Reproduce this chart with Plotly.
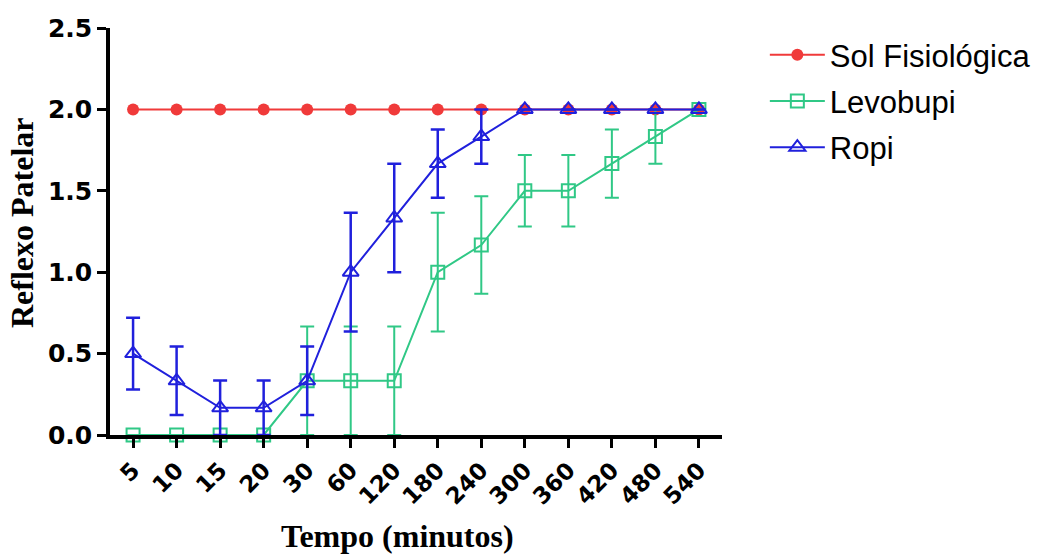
import plotly.graph_objects as go

tempo = ["5", "10", "15", "20", "30", "60", "120", "180", "240", "300", "360", "420", "480", "540"]

sol = [2.0] * 14

levo = [0.0, 0.0, 0.0, 0.0, 0.333, 0.333, 0.333, 1.0, 1.167, 1.5, 1.5, 1.667, 1.833, 2.0]
levo_err = [0.0, 0.0, 0.0, 0.0, 0.333, 0.333, 0.333, 0.365, 0.30, 0.22, 0.22, 0.21, 0.167, 0.0]

ropi = [0.5, 0.333, 0.167, 0.167, 0.333, 1.0, 1.333, 1.667, 1.833, 2.0, 2.0, 2.0, 2.0, 2.0]
ropi_err = [0.22, 0.21, 0.167, 0.167, 0.21, 0.365, 0.333, 0.21, 0.167, 0.0, 0.0, 0.0, 0.0, 0.0]

RED = "#f03a3a"
GREEN = "#30c886"
BLUE = "#2020dc"

fig = go.Figure()

fig.add_trace(go.Scatter(
    x=tempo, y=sol, name="Sol Fisiológica", legendgroup="a",
    mode="lines+markers",
    line=dict(color=RED, width=2),
    marker=dict(symbol="circle", size=12, color=RED),
    cliponaxis=False,
))
fig.add_trace(go.Scatter(
    x=tempo, y=levo, name="Levobupi", legendgroup="b",
    mode="lines+markers",
    line=dict(color=GREEN, width=2),
    marker=dict(symbol="square-open", size=13, color=GREEN, line=dict(width=2, color=GREEN)),
    error_y=dict(type="data", array=levo_err, symmetric=True, color=GREEN, thickness=2, width=7),
    cliponaxis=False,
))
fig.add_trace(go.Scatter(
    x=tempo, y=ropi, name="Ropi", legendgroup="c",
    mode="lines+markers",
    line=dict(color=BLUE, width=2),
    marker=dict(symbol="triangle-up-open", size=14, color=BLUE, line=dict(width=2, color=BLUE)),
    error_y=dict(type="data", array=ropi_err, symmetric=True, color=BLUE, thickness=2.5, width=7),
    cliponaxis=False,
))

title_font = dict(family="Liberation Serif, Times New Roman", size=32, color="black", weight="bold")

fig.update_layout(
    width=1048, height=556,
    margin=dict(l=110, r=326, t=28, b=121, autoexpand=False),
    paper_bgcolor="white", plot_bgcolor="white",
    showlegend=True,
    legend=dict(
        x=1.07, y=1.0, xanchor="left", yanchor="top",
        font=dict(family="Liberation Sans, Arial", size=31, color="black"),
        itemwidth=55, tracegroupgap=3, traceorder="grouped",
        bgcolor="rgba(0,0,0,0)",
    ),
    xaxis=dict(
        type="category", range=[-0.53, 13.53],
        showline=True, linecolor="black", linewidth=3.5,
        ticks="outside", ticklen=9, tickwidth=3, tickcolor="black",
        tickangle=-45,
        tickfont=dict(family="DejaVu Sans", size=23, color="black", weight="bold"),
        showgrid=False, zeroline=False,
    ),
    yaxis=dict(
        range=[0, 2.5], tickvals=[0, 0.5, 1.0, 1.5, 2.0, 2.5], tickformat=".1f",
        showline=True, linecolor="black", linewidth=3.5,
        ticks="outside", ticklen=9, tickwidth=3, tickcolor="black",
        tickfont=dict(family="DejaVu Sans", size=25, color="black", weight="bold"),
        showgrid=False, zeroline=False,
    ),
    annotations=[
        dict(text="Tempo (minutos)", xref="paper", yref="paper",
             x=(397 - 110) / 612, y=(435 - 536) / 407,
             xanchor="center", yanchor="middle", showarrow=False, font=title_font),
        dict(text="Reflexo Patelar", xref="paper", yref="paper",
             x=(22 - 110) / 612, y=(435 - 223) / 407, textangle=-90,
             xanchor="center", yanchor="middle", showarrow=False, font=title_font),
    ],
)

fig.write_html("out.html")
